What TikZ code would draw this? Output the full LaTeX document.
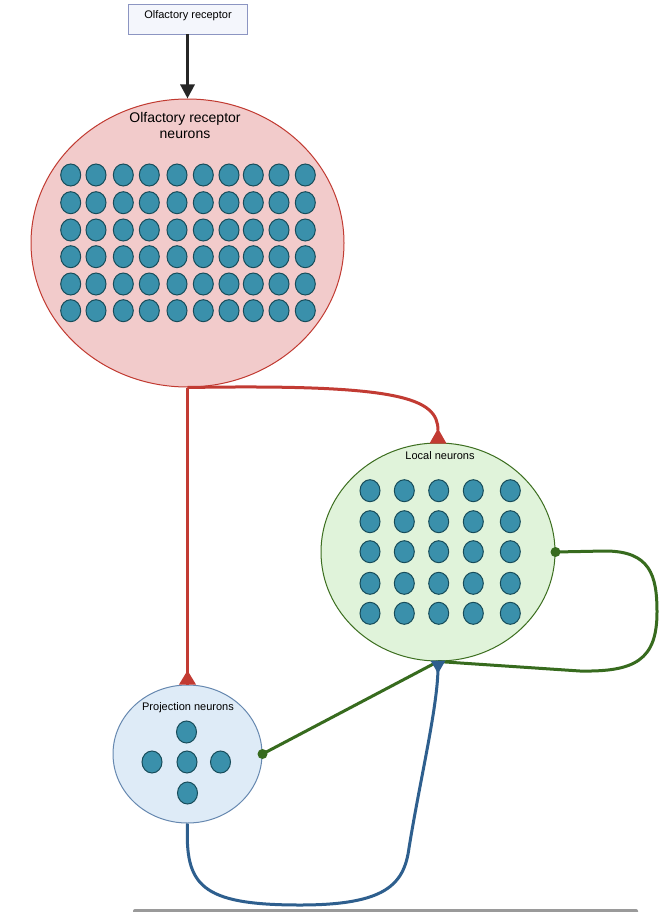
\documentclass[tikz,border=0pt]{standalone}
\usepackage{fontspec}
\setmainfont{Liberation Sans}
\usetikzlibrary{shapes.geometric,arrows.meta,calc}
\definecolor{boxfill}{HTML}{F4F6FC}
\definecolor{boxline}{HTML}{8C95C2}
\definecolor{ornfill}{HTML}{F2CBCB}
\definecolor{ornline}{HTML}{C13A31}
\definecolor{redline}{HTML}{C23B33}
\definecolor{lnfill}{HTML}{E0F3DA}
\definecolor{lnline}{HTML}{3C6E1F}
\definecolor{greenline}{HTML}{376B1E}
\definecolor{pnfill}{HTML}{DEEBF7}
\definecolor{pnline}{HTML}{6688B0}
\definecolor{blueline}{HTML}{2E5F8E}
\definecolor{neufill}{HTML}{3A90AB}
\definecolor{neuline}{HTML}{174C5A}
\definecolor{bargray}{HTML}{9A9A9A}
\tikzset{
  neuron/.style={ellipse, draw=neuline, fill=neufill, line width=1pt, minimum width=20pt, minimum height=22pt, inner sep=0pt},
  group/.style={ellipse, inner sep=0pt, line width=1pt},
  lbl/.style={font=\fontsize{11}{13}\selectfont, text=black, inner sep=0pt, align=center},
  conn/.style={line width=3pt},
}
\begin{document}
\begin{tikzpicture}[x=1pt,y=-1pt]
\useasboundingbox (0,0) rectangle (667,912);
\fill[white] (0,0) rectangle (667,912);
% groups
\node[group, draw=ornline, fill=ornfill, minimum width=313pt, minimum height=288pt] (orn) at (187.5,243) {};
\node[group, draw=lnline, fill=lnfill, minimum width=234pt, minimum height=218pt] (ln) at (438,552) {};
\node[group, draw=pnline, fill=pnfill, minimum width=149pt, minimum height=138pt] (pn) at (187.5,754) {};
% top box
\node[draw=boxline, fill=boxfill, line width=0.8pt, minimum width=119pt, minimum height=30pt, inner sep=0pt] (rec) at (187.5,19) {};
\node[lbl] (reclbl) at (188,15.5) {Olfactory receptor};
% labels
\node[lbl, font=\fontsize{14}{16}\selectfont] (ornlbl) at (185,125) {Olfactory receptor\\neurons};
\node[lbl] (lnlbl) at (440,456) {Local neurons};
\node[lbl] (pnlbl) at (188,708) {Projection neurons};
% ORN neurons
\foreach \x [count=\i] in {70.7,96,123.3,149.3,177,203.3,229,253.3,279,305.3}
  \foreach \y [count=\j] in {175,202.7,230,256.7,284,310.7}
    \node[neuron] (o-\i-\j) at (\x,\y) {};
% LN neurons
\foreach \x [count=\i] in {370,404.3,438.7,473.3,510.3}
  \foreach \y [count=\j] in {490.7,521.7,551.7,583.3,613.3}
    \node[neuron] (l-\i-\j) at (\x,\y) {};
% PN neurons
\node[neuron] (p-1) at (186.5,732) {};
\node[neuron] (p-2) at (152,762) {};
\node[neuron] (p-3) at (187,762) {};
\node[neuron] (p-4) at (220.5,762) {};
\node[neuron] (p-5) at (187.5,793) {};
% black arrow
\draw[conn, draw=black!85, -{Triangle[length=14pt,width=14pt]}] (rec.south) -- (orn.north);
% red connections
\draw[conn, redline] (orn.south) -- (pn.north);
\fill[redline] ($(pn.north)+(-8.5,0)$) -- ($(pn.north)+(0,-14)$) -- ($(pn.north)+(8.5,0)$) -- cycle;
\draw[conn, redline] (orn.south) .. controls (400,384) and (438,398) .. ($(ln.north)+(0,-12)$);
\fill[redline] ($(ln.north)+(-8.5,1)$) -- ($(ln.north)+(0,-14)$) -- ($(ln.north)+(8.5,1)$) -- cycle;
% green connections
\draw[conn, greenline] (pn.east) -- (ln.south);
\draw[conn, greenline] (ln.east) -- (605,551) .. controls (650,551) and (657,575) .. (657,612)
  .. controls (657,660) and (635,672) .. (580,671) -- (ln.south);
\fill[greenline] (ln.east) circle (5);
\fill[greenline] (pn.east) circle (5);
% blue connection
\draw[conn, blueline] (pn.south) .. controls (185,885) and (200,905) .. (300,905)
  .. controls (385,905) and (404,885) .. (409,848)
  .. controls (420,780) and (437,710) .. ($(ln.south)+(0,8)$);
\fill[blueline] ($(ln.south)+(-7.5,-1)$) -- ($(ln.south)+(0,12)$) -- ($(ln.south)+(7.5,-1)$) -- cycle;
% bottom bar
\fill[bargray, rounded corners=2pt] (133,909) rectangle (638,920);
\end{tikzpicture}
\end{document}
